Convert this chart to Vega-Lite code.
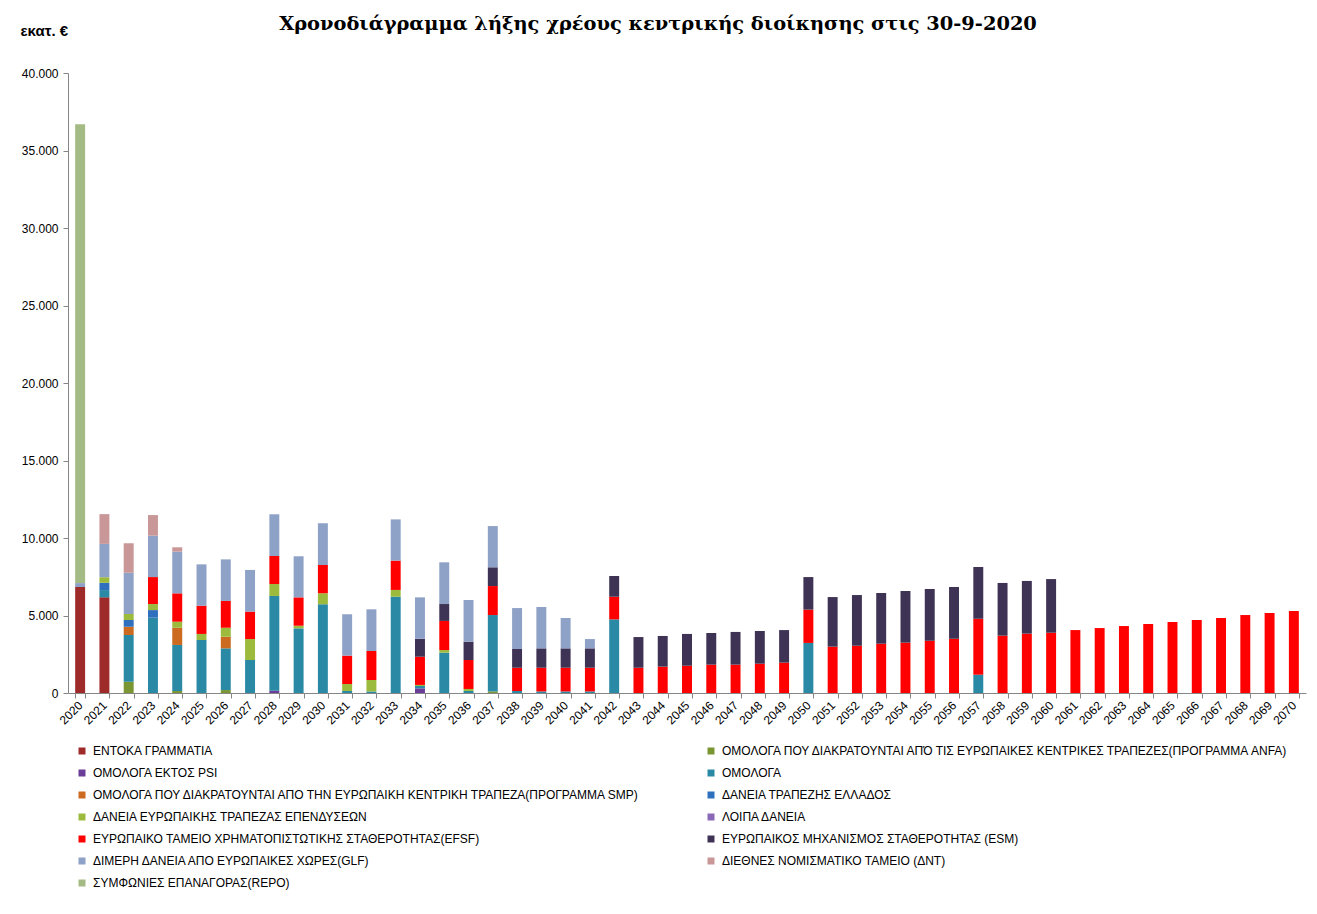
{
  "$schema": "https://vega.github.io/schema/vega-lite/v6.json",
  "width": 1238,
  "height": 620,
  "autosize": {"type": "none"},
  "padding": {"left": 68, "top": 73, "right": 11, "bottom": 221},
  "background": "white",
  "config": {"view": {"stroke": null}},
  "title": {
    "text": "Χρονοδιάγραμμα  λήξης χρέους κεντρικής διοίκησης στις 30-9-2020",
    "font": "DejaVu Serif",
    "fontSize": 19.4,
    "fontWeight": "bold",
    "color": "#000000",
    "anchor": "middle",
    "dx": -29,
    "dy": 11,
    "offset": 0
  },
  "datasets": {
    "series": [
      {"s": "ENT", "k": 1, "name": "ΕΝΤΟΚΑ ΓΡΑΜΜΑΤΙΑ"},
      {"s": "ANFA", "k": 2, "name": "ΟΜΟΛΟΓΑ ΠΟΥ ΔΙΑΚΡΑΤΟΥΝΤΑΙ ΑΠΌ ΤΙΣ ΕΥΡΩΠΑΙΚΕΣ ΚΕΝΤΡΙΚΕΣ ΤΡΑΠΕΖΕΣ(ΠΡΟΓΡΑΜΜΑ ANFA)"},
      {"s": "PSI", "k": 3, "name": "ΟΜΟΛΟΓΑ ΕΚΤΟΣ PSI"},
      {"s": "OML", "k": 4, "name": "ΟΜΟΛΟΓΑ"},
      {"s": "SMP", "k": 5, "name": "ΟΜΟΛΟΓΑ ΠΟΥ ΔΙΑΚΡΑΤΟΥΝΤΑΙ ΑΠΟ ΤΗΝ ΕΥΡΩΠΑΙΚΗ ΚΕΝΤΡΙΚΗ ΤΡΑΠΕΖΑ(ΠΡΟΓΡΑΜΜΑ SMP)"},
      {"s": "BOG", "k": 6, "name": "ΔΑΝΕΙΑ ΤΡΑΠΕΖΗΣ ΕΛΛΑΔΟΣ"},
      {"s": "EIB", "k": 7, "name": "ΔΑΝΕΙΑ ΕΥΡΩΠΑΙΚΗΣ ΤΡΑΠΕΖΑΣ ΕΠΕΝΔΥΣΕΩΝ"},
      {"s": "LOI", "k": 8, "name": "ΛΟΙΠΑ ΔΑΝΕΙΑ"},
      {"s": "EFSF", "k": 9, "name": "ΕΥΡΩΠΑΙΚΟ ΤΑΜΕΙΟ ΧΡΗΜΑΤΟΠΙΣΤΩΤΙΚΗΣ ΣΤΑΘΕΡΟΤΗΤΑΣ(EFSF)"},
      {"s": "ESM", "k": 10, "name": "ΕΥΡΩΠΑΙΚΟΣ ΜΗΧΑΝΙΣΜΟΣ ΣΤΑΘΕΡΟΤΗΤΑΣ (ESM)"},
      {"s": "GLF", "k": 11, "name": " ΔΙΜΕΡΗ ΔΑΝΕΙΑ ΑΠΟ ΕΥΡΩΠΑΙΚΕΣ ΧΩΡΕΣ(GLF)"},
      {"s": "IMF", "k": 12, "name": "ΔΙΕΘΝΕΣ ΝΟΜΙΣΜΑΤΙΚΟ ΤΑΜΕΙΟ (ΔΝΤ)"},
      {"s": "REPO", "k": 13, "name": "ΣΥΜΦΩΝΙΕΣ ΕΠΑΝΑΓΟΡΑΣ(REPO)"}
    ],
    "debt": [
      {"year": "2020", "s": "ENT", "v": 6840}, {"year": "2020", "s": "GLF", "v": 250}, {"year": "2020", "s": "REPO", "v": 29600},
      {"year": "2021", "s": "ENT", "v": 6170}, {"year": "2021", "s": "OML", "v": 470}, {"year": "2021", "s": "BOG", "v": 470}, {"year": "2021", "s": "EIB", "v": 360}, {"year": "2021", "s": "GLF", "v": 2150}, {"year": "2021", "s": "IMF", "v": 1920},
      {"year": "2022", "s": "ANFA", "v": 730}, {"year": "2022", "s": "OML", "v": 3010}, {"year": "2022", "s": "SMP", "v": 540}, {"year": "2022", "s": "BOG", "v": 430}, {"year": "2022", "s": "EIB", "v": 390}, {"year": "2022", "s": "GLF", "v": 2660}, {"year": "2022", "s": "IMF", "v": 1900},
      {"year": "2023", "s": "OML", "v": 4860}, {"year": "2023", "s": "BOG", "v": 490}, {"year": "2023", "s": "EIB", "v": 390}, {"year": "2023", "s": "EFSF", "v": 1740}, {"year": "2023", "s": "GLF", "v": 2670}, {"year": "2023", "s": "IMF", "v": 1330},
      {"year": "2024", "s": "ANFA", "v": 130}, {"year": "2024", "s": "OML", "v": 2970}, {"year": "2024", "s": "SMP", "v": 1110}, {"year": "2024", "s": "EIB", "v": 390}, {"year": "2024", "s": "EFSF", "v": 1830}, {"year": "2024", "s": "GLF", "v": 2690}, {"year": "2024", "s": "IMF", "v": 280},
      {"year": "2025", "s": "OML", "v": 3420}, {"year": "2025", "s": "EIB", "v": 390}, {"year": "2025", "s": "EFSF", "v": 1820}, {"year": "2025", "s": "GLF", "v": 2670},
      {"year": "2026", "s": "ANFA", "v": 190}, {"year": "2026", "s": "OML", "v": 2690}, {"year": "2026", "s": "SMP", "v": 750}, {"year": "2026", "s": "EIB", "v": 580}, {"year": "2026", "s": "EFSF", "v": 1730}, {"year": "2026", "s": "GLF", "v": 2680},
      {"year": "2027", "s": "OML", "v": 2130}, {"year": "2027", "s": "EIB", "v": 1350}, {"year": "2027", "s": "EFSF", "v": 1770}, {"year": "2027", "s": "GLF", "v": 2690},
      {"year": "2028", "s": "PSI", "v": 150}, {"year": "2028", "s": "OML", "v": 6110}, {"year": "2028", "s": "EIB", "v": 770}, {"year": "2028", "s": "EFSF", "v": 1810}, {"year": "2028", "s": "GLF", "v": 2690},
      {"year": "2029", "s": "OML", "v": 4170}, {"year": "2029", "s": "EIB", "v": 170}, {"year": "2029", "s": "EFSF", "v": 1830}, {"year": "2029", "s": "GLF", "v": 2650},
      {"year": "2030", "s": "OML", "v": 5720}, {"year": "2030", "s": "EIB", "v": 710}, {"year": "2030", "s": "EFSF", "v": 1830}, {"year": "2030", "s": "GLF", "v": 2690},
      {"year": "2031", "s": "OML", "v": 130}, {"year": "2031", "s": "EIB", "v": 450}, {"year": "2031", "s": "EFSF", "v": 1830}, {"year": "2031", "s": "GLF", "v": 2670},
      {"year": "2032", "s": "OML", "v": 100}, {"year": "2032", "s": "EIB", "v": 740}, {"year": "2032", "s": "EFSF", "v": 1870}, {"year": "2032", "s": "GLF", "v": 2690},
      {"year": "2033", "s": "OML", "v": 6210}, {"year": "2033", "s": "EIB", "v": 440}, {"year": "2033", "s": "EFSF", "v": 1890}, {"year": "2033", "s": "GLF", "v": 2660},
      {"year": "2034", "s": "PSI", "v": 300}, {"year": "2034", "s": "OML", "v": 150}, {"year": "2034", "s": "EIB", "v": 70}, {"year": "2034", "s": "EFSF", "v": 1820}, {"year": "2034", "s": "ESM", "v": 1160}, {"year": "2034", "s": "GLF", "v": 2670},
      {"year": "2035", "s": "OML", "v": 2600}, {"year": "2035", "s": "EIB", "v": 170}, {"year": "2035", "s": "EFSF", "v": 1880}, {"year": "2035", "s": "ESM", "v": 1090}, {"year": "2035", "s": "GLF", "v": 2690},
      {"year": "2036", "s": "OML", "v": 130}, {"year": "2036", "s": "EIB", "v": 130}, {"year": "2036", "s": "EFSF", "v": 1870}, {"year": "2036", "s": "ESM", "v": 1180}, {"year": "2036", "s": "GLF", "v": 2690},
      {"year": "2037", "s": "ANFA", "v": 100}, {"year": "2037", "s": "OML", "v": 4930}, {"year": "2037", "s": "EFSF", "v": 1870}, {"year": "2037", "s": "ESM", "v": 1210}, {"year": "2037", "s": "GLF", "v": 2660},
      {"year": "2038", "s": "OML", "v": 130}, {"year": "2038", "s": "EFSF", "v": 1500}, {"year": "2038", "s": "ESM", "v": 1210}, {"year": "2038", "s": "GLF", "v": 2640},
      {"year": "2039", "s": "OML", "v": 100}, {"year": "2039", "s": "EFSF", "v": 1530}, {"year": "2039", "s": "ESM", "v": 1250}, {"year": "2039", "s": "GLF", "v": 2670},
      {"year": "2040", "s": "OML", "v": 100}, {"year": "2040", "s": "EFSF", "v": 1530}, {"year": "2040", "s": "ESM", "v": 1250}, {"year": "2040", "s": "GLF", "v": 1960},
      {"year": "2041", "s": "OML", "v": 100}, {"year": "2041", "s": "EFSF", "v": 1530}, {"year": "2041", "s": "ESM", "v": 1250}, {"year": "2041", "s": "GLF", "v": 600},
      {"year": "2042", "s": "OML", "v": 4750}, {"year": "2042", "s": "EFSF", "v": 1460}, {"year": "2042", "s": "ESM", "v": 1340},
      {"year": "2043", "s": "EFSF", "v": 1630}, {"year": "2043", "s": "ESM", "v": 1980},
      {"year": "2044", "s": "EFSF", "v": 1700}, {"year": "2044", "s": "ESM", "v": 1980},
      {"year": "2045", "s": "EFSF", "v": 1760}, {"year": "2045", "s": "ESM", "v": 2050},
      {"year": "2046", "s": "EFSF", "v": 1830}, {"year": "2046", "s": "ESM", "v": 2040},
      {"year": "2047", "s": "EFSF", "v": 1830}, {"year": "2047", "s": "ESM", "v": 2110},
      {"year": "2048", "s": "EFSF", "v": 1890}, {"year": "2048", "s": "ESM", "v": 2110},
      {"year": "2049", "s": "EFSF", "v": 1960}, {"year": "2049", "s": "ESM", "v": 2100},
      {"year": "2050", "s": "OML", "v": 3230}, {"year": "2050", "s": "EFSF", "v": 2150}, {"year": "2050", "s": "ESM", "v": 2100},
      {"year": "2051", "s": "EFSF", "v": 2990}, {"year": "2051", "s": "ESM", "v": 3200},
      {"year": "2052", "s": "EFSF", "v": 3050}, {"year": "2052", "s": "ESM", "v": 3270},
      {"year": "2053", "s": "EFSF", "v": 3180}, {"year": "2053", "s": "ESM", "v": 3270},
      {"year": "2054", "s": "EFSF", "v": 3250}, {"year": "2054", "s": "ESM", "v": 3330},
      {"year": "2055", "s": "EFSF", "v": 3370}, {"year": "2055", "s": "ESM", "v": 3340},
      {"year": "2056", "s": "EFSF", "v": 3500}, {"year": "2056", "s": "ESM", "v": 3340},
      {"year": "2057", "s": "OML", "v": 1180}, {"year": "2057", "s": "EFSF", "v": 3610}, {"year": "2057", "s": "ESM", "v": 3340},
      {"year": "2058", "s": "EFSF", "v": 3700}, {"year": "2058", "s": "ESM", "v": 3400},
      {"year": "2059", "s": "EFSF", "v": 3830}, {"year": "2059", "s": "ESM", "v": 3400},
      {"year": "2060", "s": "EFSF", "v": 3890}, {"year": "2060", "s": "ESM", "v": 3460},
      {"year": "2061", "s": "EFSF", "v": 4060},
      {"year": "2062", "s": "EFSF", "v": 4190},
      {"year": "2063", "s": "EFSF", "v": 4320},
      {"year": "2064", "s": "EFSF", "v": 4450},
      {"year": "2065", "s": "EFSF", "v": 4580},
      {"year": "2066", "s": "EFSF", "v": 4710},
      {"year": "2067", "s": "EFSF", "v": 4840},
      {"year": "2068", "s": "EFSF", "v": 5030},
      {"year": "2069", "s": "EFSF", "v": 5160},
      {"year": "2070", "s": "EFSF", "v": 5290}
    ]
  },
  "data": {"name": "debt"},
  "transform": [
    {"lookup": "s", "from": {"data": {"name": "series"}, "key": "s", "fields": ["name", "k"]}}
  ],
  "mark": {"type": "bar"},
  "encoding": {
    "x": {
      "field": "year",
      "type": "ordinal",
      "scale": {"paddingInner": 0.59, "paddingOuter": 0.295},
      "axis": {
        "title": null,
        "labelAngle": -45,
        "labelAlign": "right",
        "labelBaseline": "middle",
        "labelFont": "Liberation Sans",
        "labelFontSize": 12,
        "labelColor": "#000000",
        "labelPadding": 5,
        "tickBand": "extent",
        "tickSize": 5,
        "tickColor": "#868686",
        "domainColor": "#868686",
        "labelOverlap": false
      }
    },
    "y": {
      "field": "v",
      "type": "quantitative",
      "stack": "zero",
      "scale": {"domain": [0, 40000], "nice": false},
      "axis": {
        "values": [0, 5000, 10000, 15000, 20000, 25000, 30000, 35000, 40000],
        "labelExpr": "replace(format(datum.value, ','), ',', '.')",
        "grid": false,
        "tickSize": 5,
        "tickColor": "#868686",
        "domainColor": "#868686",
        "labelFont": "Liberation Sans",
        "labelFontSize": 12,
        "labelColor": "#000000",
        "labelPadding": 5,
        "title": "εκατ. €",
        "titleAngle": 0,
        "titleAlign": "left",
        "titleBaseline": "alphabetic",
        "titleX": -48,
        "titleY": -38,
        "titleFont": "Liberation Sans",
        "titleFontSize": 15,
        "titleFontWeight": "bold",
        "titleColor": "#000000"
      }
    },
    "color": {
      "field": "name",
      "type": "nominal",
      "scale": {
        "domain": [
          "ΕΝΤΟΚΑ ΓΡΑΜΜΑΤΙΑ",
          "ΟΜΟΛΟΓΑ ΠΟΥ ΔΙΑΚΡΑΤΟΥΝΤΑΙ ΑΠΌ ΤΙΣ ΕΥΡΩΠΑΙΚΕΣ ΚΕΝΤΡΙΚΕΣ ΤΡΑΠΕΖΕΣ(ΠΡΟΓΡΑΜΜΑ ANFA)",
          "ΟΜΟΛΟΓΑ ΕΚΤΟΣ PSI",
          "ΟΜΟΛΟΓΑ",
          "ΟΜΟΛΟΓΑ ΠΟΥ ΔΙΑΚΡΑΤΟΥΝΤΑΙ ΑΠΟ ΤΗΝ ΕΥΡΩΠΑΙΚΗ ΚΕΝΤΡΙΚΗ ΤΡΑΠΕΖΑ(ΠΡΟΓΡΑΜΜΑ SMP)",
          "ΔΑΝΕΙΑ ΤΡΑΠΕΖΗΣ ΕΛΛΑΔΟΣ",
          "ΔΑΝΕΙΑ ΕΥΡΩΠΑΙΚΗΣ ΤΡΑΠΕΖΑΣ ΕΠΕΝΔΥΣΕΩΝ",
          "ΛΟΙΠΑ ΔΑΝΕΙΑ",
          "ΕΥΡΩΠΑΙΚΟ ΤΑΜΕΙΟ ΧΡΗΜΑΤΟΠΙΣΤΩΤΙΚΗΣ ΣΤΑΘΕΡΟΤΗΤΑΣ(EFSF)",
          "ΕΥΡΩΠΑΙΚΟΣ ΜΗΧΑΝΙΣΜΟΣ ΣΤΑΘΕΡΟΤΗΤΑΣ (ESM)",
          " ΔΙΜΕΡΗ ΔΑΝΕΙΑ ΑΠΟ ΕΥΡΩΠΑΙΚΕΣ ΧΩΡΕΣ(GLF)",
          "ΔΙΕΘΝΕΣ ΝΟΜΙΣΜΑΤΙΚΟ ΤΑΜΕΙΟ (ΔΝΤ)",
          "ΣΥΜΦΩΝΙΕΣ ΕΠΑΝΑΓΟΡΑΣ(REPO)"
        ],
        "range": ["#9e2a2a", "#7a9632", "#6a3d98", "#2a8aa6", "#cc6a1f", "#2f70be", "#9cbb3c", "#8b68b8", "#ff0000", "#3e3354", "#8ea1c6", "#c99797", "#a5bb85"]
      },
      "legend": {
        "title": null,
        "orient": "none",
        "legendX": 8,
        "legendY": 672,
        "direction": "horizontal",
        "columns": 2,
        "columnPadding": 64,
        "rowPadding": 10,
        "symbolType": "square",
        "symbolSize": 49,
        "symbolStrokeWidth": 0,
        "labelFont": "Liberation Sans",
        "labelFontSize": 12,
        "labelColor": "#000000",
        "labelLimit": 800,
        "labelOffset": 5
      }
    },
    "order": {"field": "k", "type": "quantitative"}
  }
}
